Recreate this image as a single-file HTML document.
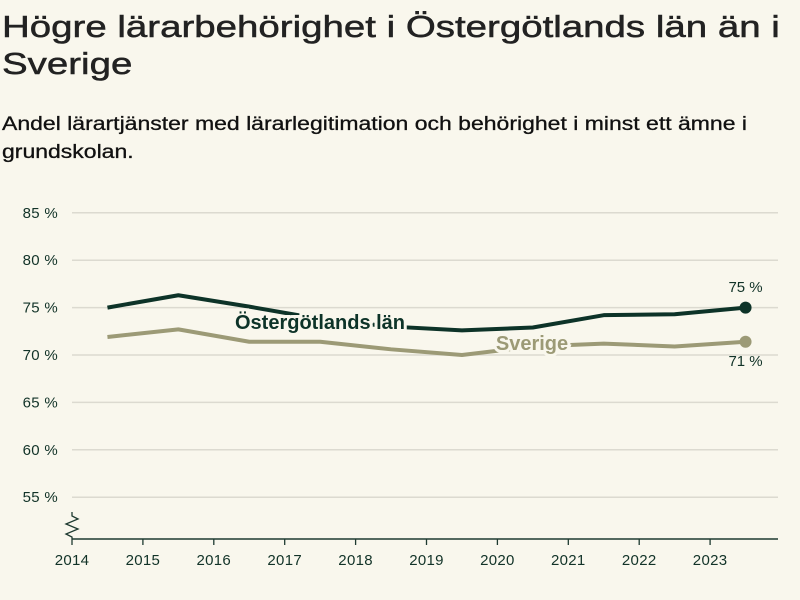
<!DOCTYPE html>
<html><head><meta charset="utf-8"><style>
body{margin:0;background:#f9f7ed;width:800px;height:600px;overflow:hidden;font-family:"Liberation Sans",sans-serif;color:#1e1e1e}
h1{position:absolute;left:2px;top:8px;margin:0;font-size:31px;font-weight:normal;line-height:37px;transform:scaleX(1.24);transform-origin:left top;white-space:nowrap;color:#222;-webkit-text-stroke:0.5px #222}
h2{position:absolute;left:2px;top:111px;margin:0;font-size:19px;font-weight:normal;line-height:28px;transform:scaleX(1.21);transform-origin:left top;white-space:nowrap;color:#111;-webkit-text-stroke:0.3px #111}
svg{position:absolute;left:0;top:0}
</style></head><body>
<h1>Högre lärarbehörighet i Östergötlands län än i<br>Sverige</h1>
<h2>Andel lärartjänster med lärarlegitimation och behörighet i minst ett ämne i<br>grundskolan.</h2>
<svg id="c" width="800" height="600"></svg>
<script>
const years=[2014,2015,2016,2017,2018,2019,2020,2021,2022,2023];
const yTicks=[55,60,65,70,75,80,85];
const ostValues=[75.0,76.3,75.1,73.8,73.0,72.6,72.9,74.2,74.3,75.0];
const sveValues=[71.9,72.7,71.4,71.4,70.6,70.0,70.9,71.2,70.9,71.4];
const ns="http://www.w3.org/2000/svg",svg=document.getElementById('c');
const X=y=>72+(y-2014)*70.9, Y=v=>355-(v-70)*9.48;
function el(t,a,p){const e=document.createElementNS(ns,t);for(const k in a)e.setAttribute(k,a[k]);(p||svg).appendChild(e);return e;}
yTicks.forEach(t=>{const g=el('line',{x1:72,x2:778,y1:Y(t),y2:Y(t),stroke:'#dcdad0','stroke-width':1.5});


const tx=el('text',{x:58,y:Y(t)+5,'text-anchor':'end','font-size':15,fill:'#123328','letter-spacing':'0.3'});tx.textContent=t+' %';

});
const ax=el('line',{x1:72,x2:778,y1:539,y2:539,stroke:'#1e3a30','stroke-width':1.5});


const br=el('path',{d:'M72 512 L72 516 L78 519 L66 524 L78 529 L66 534 L72 537 L72 539',fill:'none',stroke:'#1e3a30','stroke-width':1.3});


years.forEach(y=>{const tk=el('line',{x1:X(y),x2:X(y),y1:539,y2:545,stroke:'#1e3a30','stroke-width':1.3});


const t=el('text',{x:X(y),y:565,'text-anchor':'middle','font-size':15,fill:'#123328','letter-spacing':'0.3'});t.textContent=y;

});
function series(vals,col,name,label,lx,ly,end,ey){
const p=el('polyline',{points:vals.map((v,i)=>X(years[i]+0.5)+','+Y(v)).join(' '),fill:'none',stroke:col,'stroke-width':4,'stroke-linejoin':'round'});


const n=vals.length-1;
const c=el('circle',{cx:X(years[n]+0.5),cy:Y(vals[n]),r:6,fill:col});


const l=el('text',{x:lx,y:ly,'text-anchor':'middle','font-size':20,'font-weight':'bold',fill:col,stroke:'#f9f7ed','stroke-width':6,'paint-order':'stroke'});l.textContent=label;


const e=el('text',{x:X(years[n]+0.5),y:ey,'text-anchor':'middle','font-size':15,fill:'#123328'});e.textContent=end;

}
series(sveValues,'#9c9a76','sverige','Sverige',532,350,Math.round(sveValues[9])+' %',366);
series(ostValues,'#0d3328','ostergotland','Östergötlands län',320,329,Math.round(ostValues[9])+' %',292);
</script>
</body></html>
